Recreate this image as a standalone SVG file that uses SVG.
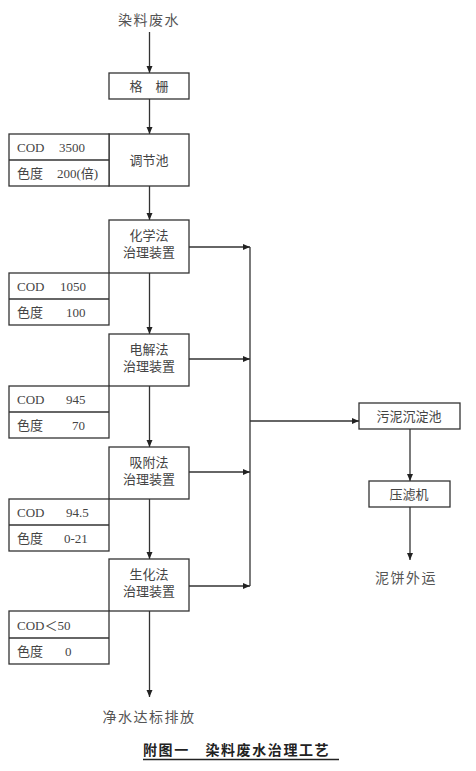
<svg xmlns="http://www.w3.org/2000/svg" width="476" height="771" viewBox="0 0 476 771">
<style>
.bx{fill:#fff;stroke:#333;stroke-width:1.3}
.ln{fill:none;stroke:#333;stroke-width:1.3}
.t{font-family:"Liberation Serif","Noto Sans CJK SC",serif;font-size:13px;fill:#444}
.c{text-anchor:middle}
.lab{font-family:"Noto Sans CJK SC",sans-serif;font-size:14px;fill:#555;letter-spacing:1.5px;text-anchor:middle}
.cap{font-family:"Noto Sans CJK SC",sans-serif;font-size:14px;font-weight:bold;fill:#222;letter-spacing:1.6px}
</style>
<defs>
<marker id="ah" markerWidth="8" markerHeight="8" refX="7" refY="4" orient="auto" markerUnits="userSpaceOnUse">
<path d="M0,1 L7,4 L0,7 Z" fill="#222"/>
</marker>
</defs>
<rect width="476" height="771" fill="#fff"/>
<g id="connectors">
<line class="ln" x1="149.5" y1="32" x2="149.5" y2="73" marker-end="url(#ah)"/>
<line class="ln" x1="149.5" y1="99" x2="149.5" y2="134" marker-end="url(#ah)"/>
<line class="ln" x1="149.5" y1="186" x2="149.5" y2="220" marker-end="url(#ah)"/>
<line class="ln" x1="149.5" y1="273" x2="149.5" y2="334" marker-end="url(#ah)"/>
<line class="ln" x1="149.5" y1="386" x2="149.5" y2="447" marker-end="url(#ah)"/>
<line class="ln" x1="149.5" y1="499" x2="149.5" y2="559" marker-end="url(#ah)"/>
<line class="ln" x1="149.5" y1="611" x2="149.5" y2="697" marker-end="url(#ah)"/>
<line class="ln" x1="189" y1="247" x2="250" y2="247" marker-end="url(#ah)"/>
<line class="ln" x1="189" y1="359" x2="250" y2="359" marker-end="url(#ah)"/>
<line class="ln" x1="189" y1="472" x2="250" y2="472" marker-end="url(#ah)"/>
<line class="ln" x1="189" y1="586" x2="250" y2="586" marker-end="url(#ah)"/>
<line class="ln" x1="250" y1="247" x2="250" y2="586"/>
<line class="ln" x1="250" y1="421" x2="359" y2="421" marker-end="url(#ah)"/>
<line class="ln" x1="410" y1="429" x2="410" y2="481" marker-end="url(#ah)"/>
<line class="ln" x1="410" y1="507" x2="410" y2="560" marker-end="url(#ah)"/>
</g>
<g id="src"><text class="lab" x="149" y="25">染料废水</text></g>
<g id="grid"><rect class="bx" x="109" y="73" width="80" height="26"/><text class="t c" x="149" y="91">格　栅</text></g>
<g id="tiaojie">
<rect class="bx" x="109" y="134" width="80" height="52"/><text class="t c" x="149" y="165">调节池</text>
<rect class="bx" x="9" y="134" width="100" height="52"/><line class="ln" x1="9" y1="160" x2="109" y2="160"/>
<text class="t" x="17" y="152">COD</text><text class="t" x="59" y="152">3500</text>
<text class="t" x="17" y="178">色度</text><text class="t" x="57" y="178">200(倍)</text>
</g>
<g id="chem">
<rect class="bx" x="109" y="220" width="80" height="53"/>
<text class="t c" x="149" y="240">化学法</text><text class="t c" x="149" y="257">治理装置</text>
<rect class="bx" x="9" y="273" width="100" height="52"/><line class="ln" x1="9" y1="299" x2="109" y2="299"/>
<text class="t" x="17" y="291">COD</text><text class="t" x="60" y="291">1050</text>
<text class="t" x="17" y="317">色度</text><text class="t" x="66" y="317">100</text>
</g>
<g id="elec">
<rect class="bx" x="109" y="334" width="80" height="52"/>
<text class="t c" x="149" y="354">电解法</text><text class="t c" x="149" y="371">治理装置</text>
<rect class="bx" x="9" y="386" width="100" height="52"/><line class="ln" x1="9" y1="412" x2="109" y2="412"/>
<text class="t" x="17" y="404">COD</text><text class="t" x="66" y="404">945</text>
<text class="t" x="17" y="430">色度</text><text class="t" x="72" y="430">70</text>
</g>
<g id="adsorb">
<rect class="bx" x="109" y="447" width="80" height="52"/>
<text class="t c" x="149" y="467">吸附法</text><text class="t c" x="149" y="484">治理装置</text>
<rect class="bx" x="9" y="499" width="100" height="52"/><line class="ln" x1="9" y1="525" x2="109" y2="525"/>
<text class="t" x="17" y="517">COD</text><text class="t" x="66" y="517">94.5</text>
<text class="t" x="17" y="543">色度</text><text class="t" x="64" y="543">0-21</text>
</g>
<g id="bio">
<rect class="bx" x="109" y="559" width="80" height="52"/>
<text class="t c" x="149" y="579">生化法</text><text class="t c" x="149" y="596">治理装置</text>
<rect class="bx" x="9" y="611" width="100" height="53"/><line class="ln" x1="9" y1="638" x2="109" y2="638"/>
<text class="t" x="17" y="630">COD＜50</text>
<text class="t" x="17" y="656">色度</text><text class="t" x="65" y="656">0</text>
</g>
<g id="out"><text class="lab" x="149" y="722">净水达标排放</text></g>
<g id="sludge"><rect class="bx" x="359" y="403" width="101" height="26"/><text class="t c" x="409" y="421">污泥沉淀池</text></g>
<g id="press"><rect class="bx" x="369" y="481" width="81" height="26"/><text class="t c" x="409" y="499">压滤机</text></g>
<g id="cake"><text class="lab" x="406" y="583">泥饼外运</text></g>
<g id="caption">
<text class="cap" x="143" y="755">附图一　染料废水治理工艺</text>
<line x1="143" y1="759.5" x2="339" y2="759.5" stroke="#222" stroke-width="1.4"/>
</g>
</svg>
